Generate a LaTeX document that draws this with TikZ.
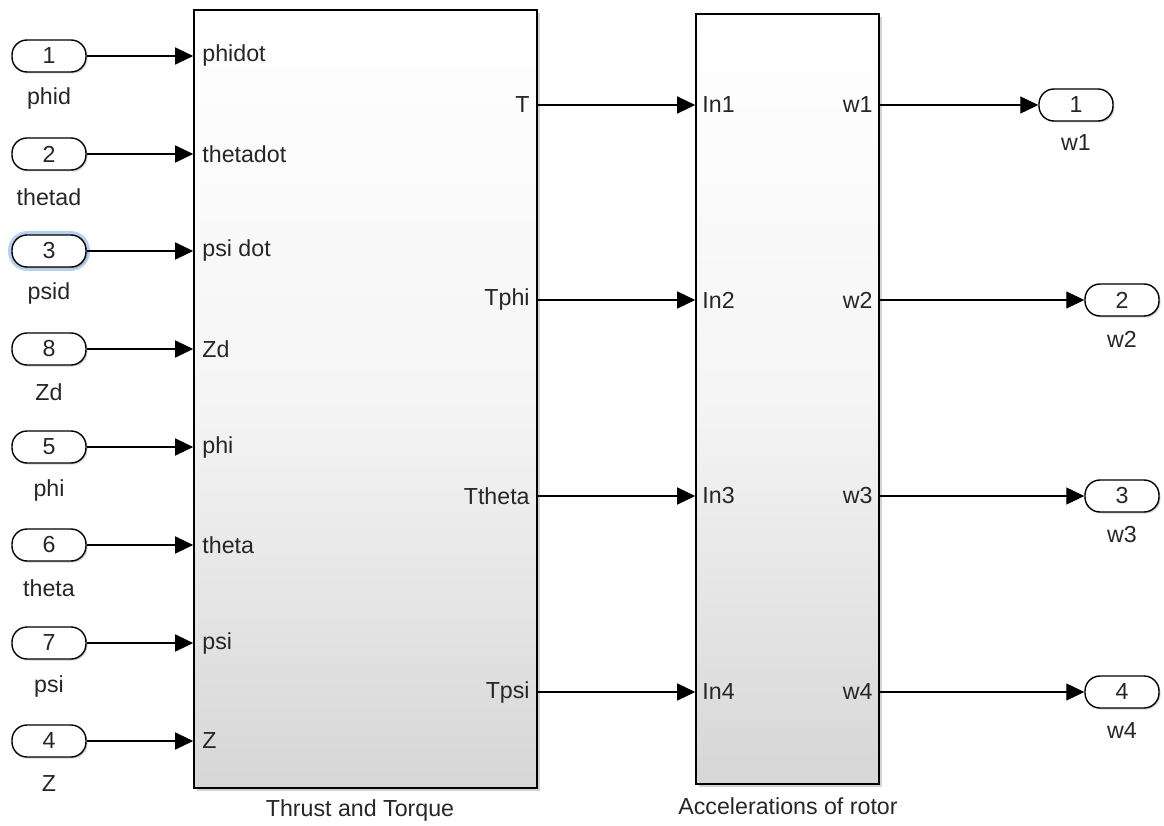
\documentclass[tikz,border=0pt]{standalone}
\usepackage{fontspec}
\setmainfont{Liberation Sans}
\usetikzlibrary{shadows,arrows.meta}
\definecolor{glowblue}{RGB}{185,208,240}
\begin{document}
\begin{tikzpicture}[x=1pt,y=-1pt,
  every node/.style={font=\fontsize{23.2}{26}\selectfont, text=black!85},
  pill/.style={draw, line width=1.4pt, rounded corners=15pt, minimum width=74pt, minimum height=32pt, inner sep=0pt, fill=white,
     drop shadow={shadow xshift=1.5pt, shadow yshift=-1.5pt, opacity=0.35}},
  blk/.style={draw, line width=1.6pt, inner sep=0pt, top color=white, bottom color=black!16, middle color=black!4,
     drop shadow={shadow xshift=3pt, shadow yshift=-3pt, opacity=0.35}},
  sig/.style={line width=1.2pt, -{Triangle[length=18pt,width=17pt]}},
  plabel/.style={inner sep=0pt},
]
\useasboundingbox (0,0) rectangle (1164,826);

% blocks
\node[blk, minimum width=343pt, minimum height=778pt] (b1) at (365.5,399) {};
\node[blk, minimum width=183pt, minimum height=770pt] (b2) at (787.5,399) {};
\node (b1name) at (360,810) {Thrust and Torque};
\node (b2name) at (788,806) {Accelerations of rotor};

% input ports
\node[draw=glowblue, line width=7pt, rounded corners=16pt, minimum width=75pt, minimum height=33pt] (glow) at (49,251) {};
\foreach \n/\num/\lab/\ilab/\y in {1/1/phid/phidot/56, 2/2/thetad/thetadot/154, 3/3/psid/psi dot/251, 4/8/Zd/Zd/349, 5/5/phi/phi/447, 6/6/theta/theta/545, 7/7/psi/psi/643, 8/4/Z/Z/741}{
  \node[pill] (in\n) at (49,\y) {\num};
  \node (inl\n) at (49,\y+43) {\lab};
  \coordinate (e\n) at (b1.west |- in\n);
  \draw[sig] (in\n.east) -- (e\n);
  \node[plabel, anchor=west] (bl\n) at ([xshift=9pt]e\n) {\ilab};
}

% middle connections
\foreach \n/\olab/\y in {1/T/105, 2/Tphi/300, 3/Ttheta/496, 4/Tpsi/692}{
  \coordinate (o\n) at (b1.east |- 0,\y);
  \coordinate (i\n) at (b2.west |- 0,\y);
  \node[plabel, anchor=east] (ol\n) at ([xshift=-8pt]o\n) {\olab};
  \node[plabel, anchor=west] (il\n) at ([xshift=7pt]i\n) {In\n};
  \draw[sig] (o\n) -- (i\n);
  \coordinate (q\n) at (b2.east |- 0,\y);
  \node[plabel, anchor=east] (wl\n) at ([xshift=-7pt]q\n) {w\n};
}

% output ports
\node[pill] (out1) at (1076,105) {1};
\node (outl1) at (1076,143) {w1};
\draw[sig] (q1) -- (out1.west);
\foreach \n/\y in {2/300, 3/496, 4/692}{
  \node[pill] (out\n) at (1122,\y) {\n};
  \node (outl\n) at (1122,\y+39) {w\n};
  \draw[sig] (q\n) -- (out\n.west);
}
\end{tikzpicture}
\end{document}
